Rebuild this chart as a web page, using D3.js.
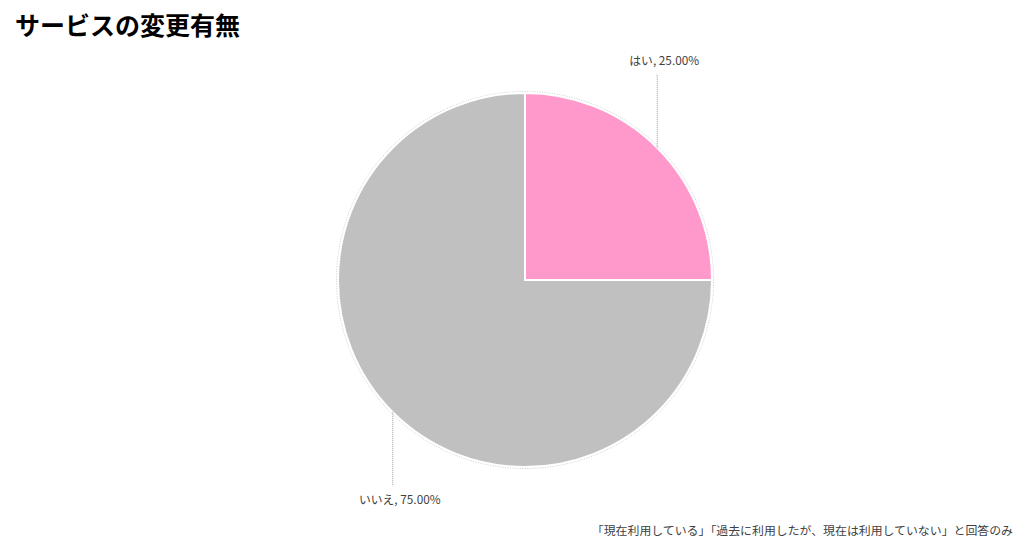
<!DOCTYPE html>
<html><head><meta charset="utf-8">
<script src="https://cdn.jsdelivr.net/npm/d3@7"></script>
<style>body{margin:0;background:#fff;}svg{display:block;}</style>
</head><body>
<svg id="c" width="1024" height="551"></svg>
<script>
const categories = ["はい", "いいえ"];
const values = [25, 75];
const colors = ["#FF99CC", "#C0C0C0"];
const title = "サービスの変更有無";
const note = "「現在利用している」「過去に利用したが、現在は利用していない」と回答のみ";

const svg = d3.select("#c");
const font = "'Noto Sans CJK JP', 'Noto Sans', sans-serif";
const cx = 525, cy = 280, r = 187;

svg.append("text").attr("x", 15).attr("y", 35).text(title)
  .attr("font-family", font).attr("font-size", 25).attr("font-weight", "bold").attr("fill", "#000");

svg.append("text").attr("x", 1013).attr("y", 535).attr("text-anchor", "end").text(note)
  .attr("font-family", font).attr("font-size", 11.9).attr("fill", "#404040");

const data = categories.map((c, i) => ({ c, v: values[i], col: colors[i] }));
const pie = d3.pie().value(d => d.v).sort(null);
const arcs = pie(data);
const arc = d3.arc().innerRadius(0).outerRadius(r);
const g = svg.append("g").attr("transform", `translate(${cx},${cy})`);

g.append("circle").attr("r", r + 1.5).attr("fill", "none").attr("stroke", "#bbb")
  .attr("stroke-width", 0.8).attr("stroke-dasharray", "1,1.5");

g.selectAll("path.s").data(arcs).enter().append("path").attr("class", "s")
  .attr("d", arc).attr("fill", d => d.data.col).attr("stroke", "#fff").attr("stroke-width", 2);

const total = d3.sum(values);
const labelOffsets = [-73, 73];
arcs.forEach((a, i) => {
  const mid = (a.startAngle + a.endAngle) / 2;
  const px = Math.sin(mid) * r, py = -Math.cos(mid) * r;
  const ey = py + (py < 0 ? labelOffsets[0] : labelOffsets[1]);
  g.append("line").attr("x1", px).attr("y1", py).attr("x2", px).attr("y2", ey)
    .attr("stroke", "#999").attr("stroke-width", 1).attr("stroke-dasharray", "1,1");
  g.append("text").attr("x", px + 7).attr("y", py < 0 ? ey - 10 : ey + 19)
    .attr("text-anchor", "middle")
    .attr("font-family", font).attr("font-size", 11.8).attr("fill", "#404040")
    .text(`${a.data.c}, ${(a.data.v / total * 100).toFixed(2)}%`);
});
</script>
</body></html>
